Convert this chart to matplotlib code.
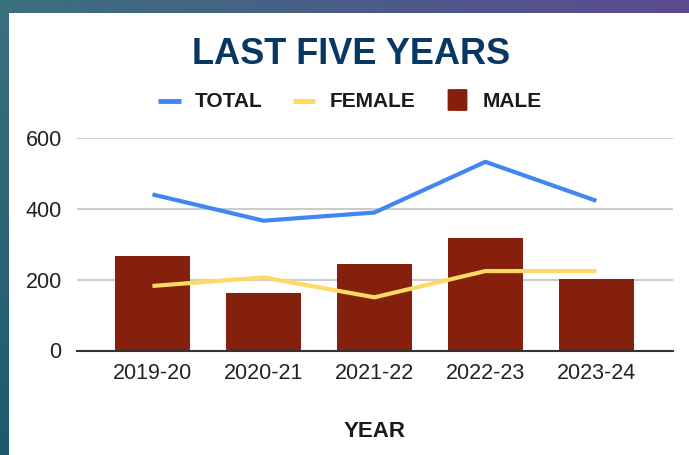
import numpy as np
import matplotlib
matplotlib.use("Agg")
import matplotlib.pyplot as plt
from matplotlib.patches import Rectangle, FancyBboxPatch
from matplotlib.lines import Line2D

plt.rcParams['font.family'] = ['Liberation Sans', 'DejaVu Sans']

# data
years = ['2019-20', '2020-21', '2021-22', '2022-23', '2023-24']
total = [440, 366, 389, 532, 422]
female = [182, 206, 150, 224, 224]
male = [266, 163, 244, 316, 201]

blue = '#4285f4'
yellow = '#ffd966'
berry = '#85200c'
navy = '#073763'

W, H = 689, 455
fig = plt.figure(figsize=(W / 100, H / 100), dpi=100)

# slide background: teal -> purple gradient
bg = fig.add_axes([0, 0, 1, 1], zorder=-10)
gx = np.linspace(0, 1, 200)[None, :, None]
gy = np.linspace(0, 1, 120)[:, None, None]
teal_top = np.array([0.23, 0.44, 0.50])
teal_bot = np.array([0.12, 0.35, 0.42])
purple = np.array([0.36, 0.29, 0.57])
left = teal_top * (1 - gy) + teal_bot * gy
grad = left * (1 - gx) + purple * gx * (1 - gy) + (left * gx) * gy
bg.imshow(grad, aspect='auto', extent=[0, 1, 0, 1])
bg.set_axis_off()

# white chart card
fig.patches.append(Rectangle((9 / W, 0), 1 - 9 / W, 1 - 13 / H,
                             transform=fig.transFigure, facecolor='white',
                             edgecolor='none', zorder=-5))

ax = fig.add_axes([77 / W, 1 - 350.5 / H, (673 - 77) / W, (350.5 - 137.7) / H])
ax.set_facecolor('none')
x = np.arange(len(years))
ax.bar(x, male, width=0.68, color=berry, zorder=2)
ax.plot(x, total, color=blue, lw=3, zorder=3, solid_capstyle='butt')
ax.plot(x, female, color=yellow, lw=3, zorder=3, solid_capstyle='butt')

ax.set_xlim(-0.68, 4.69)
ax.set_ylim(0, 600)
ax.set_yticks([0, 200, 400, 600])
ax.set_xticks(x)
ax.set_xticklabels(years)
ax.tick_params(axis='both', length=0, labelsize=15.5, colors='#222222')
ax.tick_params(axis='y', pad=11)
ax.tick_params(axis='x', pad=9)
ax.grid(axis='y', color='#cccccc', lw=1.5, zorder=0)
for s in ['top', 'right', 'left']:
    ax.spines[s].set_visible(False)
ax.spines['bottom'].set_color('#333333')
ax.spines['bottom'].set_linewidth(1.5)
ax.spines['bottom'].set_zorder(4)

fig.text(374.5 / W, 1 - 437.3 / H, 'YEAR', ha='center', va='baseline',
         fontsize=16, fontweight='bold', color='#1a1a1a')

# title
fig.text(351 / W, 1 - 64.3 / H, 'LAST FIVE YEARS', ha='center', va='baseline',
         fontsize=26, fontweight='bold', color=navy)

# legend
ly = 1 - 100.7 / H
lb = 1 - 106.7 / H
fig.add_artist(Line2D([158 / W, 181 / W], [ly, ly], color=blue, lw=3.5,
                      transform=fig.transFigure, solid_capstyle='butt'))
fig.add_artist(Line2D([293 / W, 315 / W], [ly, ly], color=yellow, lw=3.5,
                      transform=fig.transFigure, solid_capstyle='butt'))
fig.patches.append(FancyBboxPatch((449 / W, 1 - 110 / H), 17 / W, 20 / H,
                                  boxstyle='round,pad=0.002',
                                  transform=fig.transFigure, facecolor=berry,
                                  edgecolor='none'))
for tx, lab in [(195, 'TOTAL'), (330, 'FEMALE'), (483, 'MALE')]:
    fig.text(tx / W, lb, lab, ha='left', va='baseline', fontsize=15,
             fontweight='bold', color='#1a1a1a')

fig.savefig('out.png', dpi=100)
